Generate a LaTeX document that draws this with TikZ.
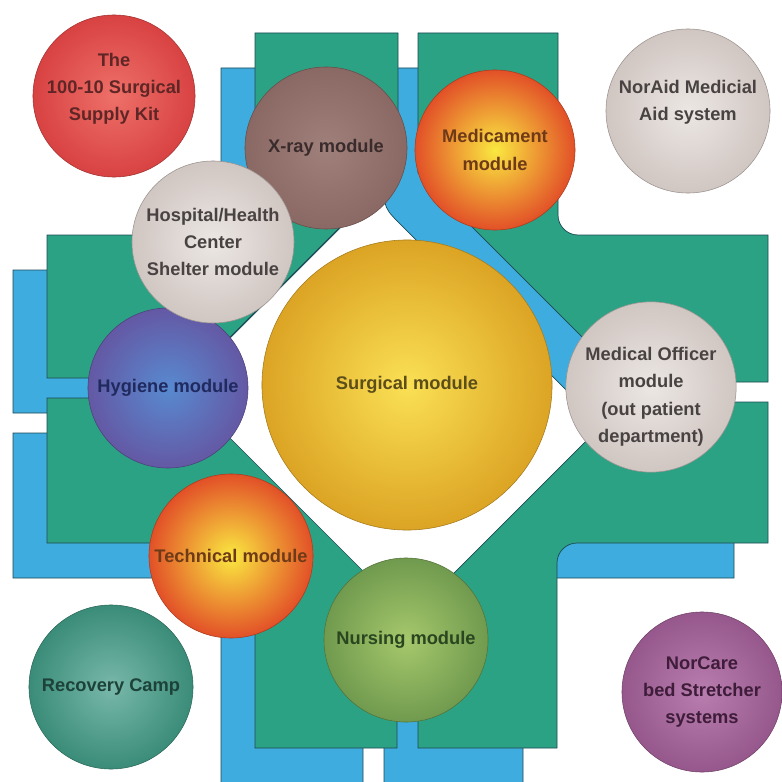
\documentclass[tikz,border=0pt]{standalone}
\usepackage{fontspec}
\setmainfont{Liberation Sans}

\definecolor{wingfill}{RGB}{44,162,132}
\definecolor{aislefill}{RGB}{62,172,222}
\definecolor{planedge}{RGB}{28,74,84}
\definecolor{kitin}{RGB}{238,112,105}\definecolor{kitout}{RGB}{216,66,66}\definecolor{kittxt}{RGB}{95,38,38}
\definecolor{xrayin}{RGB}{160,128,122}\definecolor{xrayout}{RGB}{138,104,100}\definecolor{xraytxt}{RGB}{58,44,44}
\definecolor{medin}{RGB}{250,232,64}\definecolor{medout}{RGB}{226,80,40}\definecolor{medtxt}{RGB}{110,58,24}
\definecolor{palein}{RGB}{236,231,227}\definecolor{paleout}{RGB}{208,198,194}\definecolor{paletxt}{RGB}{72,66,66}
\definecolor{hygin}{RGB}{88,138,208}\definecolor{hygout}{RGB}{100,88,164}\definecolor{hygtxt}{RGB}{32,42,95}
\definecolor{surgin}{RGB}{250,224,84}\definecolor{surgout}{RGB}{220,164,36}\definecolor{surgtxt}{RGB}{92,78,26}
\definecolor{nursin}{RGB}{166,200,108}\definecolor{nursout}{RGB}{112,154,78}\definecolor{nurstxt}{RGB}{42,70,32}
\definecolor{recin}{RGB}{120,184,170}\definecolor{recout}{RGB}{58,140,120}\definecolor{rectxt}{RGB}{28,66,58}
\definecolor{carein}{RGB}{184,126,174}\definecolor{careout}{RGB}{150,88,140}\definecolor{caretxt}{RGB}{62,28,58}

\begin{document}
\begin{tikzpicture}[x=0.025cm,y=-0.025cm,
  wing/.style={fill=wingfill,draw=planedge,line width=0.5pt},
  aisle/.style={fill=aislefill,draw=planedge,line width=0.5pt},
  module/.style={circle,inner sep=0pt,align=center,line width=0.4pt,
    font=\bfseries\fontsize{13}{19.5}\selectfont},
  tint/.style n args={3}{inner color=#1,outer color=#2,draw=#2!75!black,text=#3}]
\useasboundingbox (0,0) rectangle (782,782);
% aisles (shadow layer of the plan)
\draw[aisle] (221,68) -- (364,68) -- (364,204) -- (155,413) -- (13,413) -- (13,270) -- (221,270) -- cycle;
\draw[aisle] (384,68) -- (524,68) -- (524,250) .. controls (524,261) and (533,270) .. (544,270)
  -- (734,270) -- (734,417) -- (593,417) -- (404,228) .. controls (384,208) .. (384,184) -- cycle;
\draw[aisle] (591,437) -- (734,437) -- (734,578) -- (543,578) .. controls (532,578) and (523,587) .. (523,598)
  -- (523,790) -- (384,790) -- (384,644) -- cycle;
\draw[aisle] (13,433) -- (156,433) -- (363,640) -- (363,790) -- (221,790) -- (221,578) -- (13,578) -- cycle;
% wings
\draw[wing] (255,33) -- (398,33) -- (398,169) -- (189,378) -- (47,378) -- (47,235) -- (255,235) -- cycle;
\draw[wing] (418,33) -- (558,33) -- (558,215) .. controls (558,226) and (567,235) .. (578,235)
  -- (768,235) -- (768,382) -- (627,382) -- (418,173) -- cycle;
\draw[wing] (625,402) -- (768,402) -- (768,543) -- (577,543) .. controls (566,543) and (557,552) .. (557,563)
  -- (557,748) -- (418,748) -- (418,609) -- cycle;
\draw[wing] (47,398) -- (190,398) -- (397,605) -- (397,748) -- (255,748) -- (255,543) -- (47,543) -- cycle;
% modules
\node[module,minimum size=4.05cm,text depth=13pt,tint={kitin}{kitout}{kittxt}] (kit) at (114,96) {The\\100-10 Surgical\\Supply Kit};
\node[module,minimum size=4.1cm,text depth=15pt,tint={palein}{paleout}{paletxt}] (noraid) at (688,111) {NorAid Medicial\\Aid system};
\node[module,minimum size=4.05cm,tint={xrayin}{xrayout}{xraytxt}] (xray) at (326,148) {X-ray module};
\node[module,minimum size=4.0cm,tint={medin}{medout}{medtxt}] (medic) at (495,150) {Medicament\\module};
\node[module,minimum size=4.0cm,tint={hygin}{hygout}{hygtxt}] (hygiene) at (168,388) {Hygiene module};
\node[module,minimum size=4.05cm,tint={palein}{paleout}{paletxt}] (shelter) at (213,242) {Hospital/Health\\Center\\Shelter module};
\node[module,minimum size=7.25cm,tint={surgin}{surgout}{surgtxt}] (surgical) at (407,385) {Surgical module};
\node[module,minimum size=4.1cm,tint={palein}{paleout}{paletxt}] (officer) at (651,387)
  {\raisebox{-6.5pt}[\height][\depth]{\begin{tabular}{@{}c@{}}Medical Officer\\module\\(out patient\\department)\end{tabular}}};
\node[module,minimum size=4.1cm,tint={medin}{medout}{medtxt}] (technical) at (231,556) {Technical module};
\node[module,minimum size=4.1cm,tint={nursin}{nursout}{nurstxt}] (nursing) at (406,640) {Nursing module};
\node[module,minimum size=4.1cm,tint={recin}{recout}{rectxt}] (recovery) at (111,687) {Recovery Camp};
\node[module,minimum size=4.0cm,tint={carein}{careout}{caretxt}] (norcare) at (702,692) {NorCare\\bed Stretcher\\systems};
\end{tikzpicture}
\end{document}
